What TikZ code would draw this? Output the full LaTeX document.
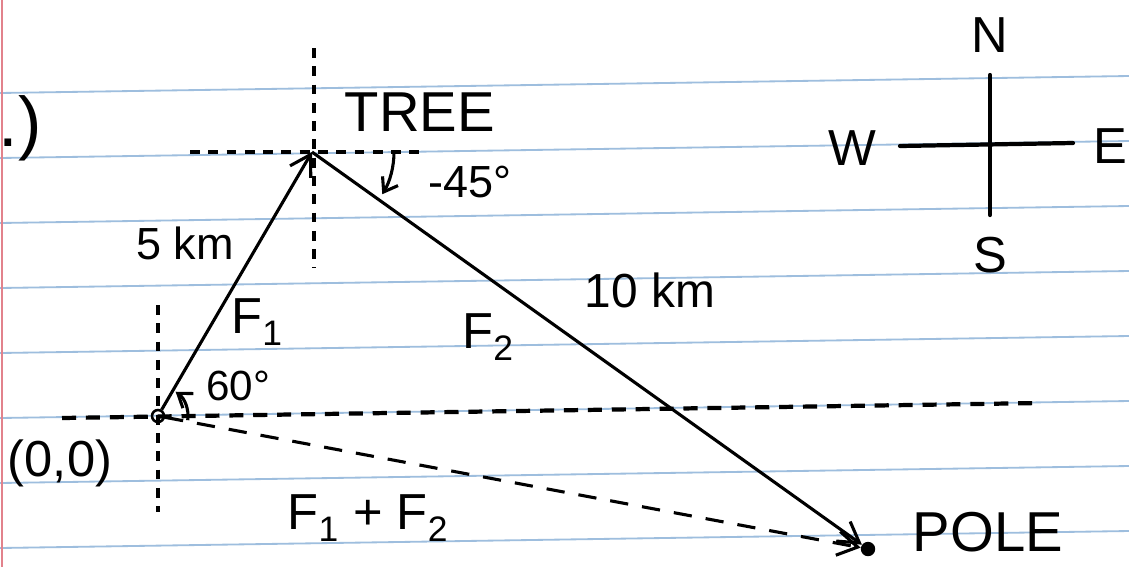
\documentclass[tikz,border=0pt]{standalone}
\usepackage{fontspec}
\setmainfont{Liberation Sans}
\usepackage{xcolor}
\usetikzlibrary{arrows.meta}
\usetikzlibrary{positioning}

\definecolor{ruleblue}{RGB}{158,190,222}
\definecolor{marginred}{RGB}{226,130,140}

\begin{document}
\begin{tikzpicture}[x=0.025cm, y=-0.025cm,
    every node/.style={inner sep=0pt, font=\fontsize{36}{40}\selectfont},
    vec/.style={line width=2.2pt, -{Straight Barb[length=5mm, width=6mm, line width=2.2pt]}},
    guide/.style={line width=2.6pt, dash pattern=on 7pt off 6pt},
    sum/.style={vec, dash pattern=on 13pt off 10pt},
    angarrow/.style={line width=2.2pt, -{Straight Barb[length=3.2mm, width=4.5mm, line width=2.2pt]}},
    compass/.style={line width=3pt, line cap=round},
    paperline/.style={line width=1.3pt, ruleblue}]
        \useasboundingbox[fill=white] (0,0) rectangle (1129,567);
        % ruled paper
        \foreach \y in {93,158,...,548}
            \draw[paperline] (0,\y) -- (1129,{\y-17});
        \draw[line width=1.2pt, marginred] (2,0) -- (2,567);

        \node (num) at (20,128) {\fontsize{50}{54}\selectfont .)};

        % points
        \node (O) [draw, circle, line width=1.8pt, minimum size=3mm] at (158,416) {};
        \coordinate (T) at (312,152);
        \node (P) [fill, circle, minimum size=3.6mm] at (868,549) {};

        % guide lines
        \coordinate (tn) at (314,48);  \coordinate (ts) at (314,268);
        \coordinate (tw) at (190,152); \coordinate (te) at (420,152);
        \coordinate (on) at (158,305); \coordinate (os) at (158,512);
        \coordinate (ow) at (62,418);  \coordinate (oe) at (1040,403);
        \draw[guide] (tn) -- (ts);
        \draw[guide] (tw) -- (te);
        \draw[guide] (on) -- (os);
        \draw[guide, line width=3pt, dash pattern=on 10pt off 7pt] (ow) -- (oe);

        % vectors
        \draw[vec] (O) -- (T);
        \draw[vec] (T) -- (P);
        \draw[sum] (O) -- (P);

        % angles
        \draw[angarrow] ([shift={(0:82)}]T) arc[start angle=0, end angle=31, radius=82];
        \draw[angarrow] ([shift={(8:30)}]O) arc[start angle=8, end angle=-54, radius=30];

        % labels
        \node (tree) at (420,112) {\fontsize{40}{44}\selectfont TREE};
        \node (ang2) at (470,182) {\fontsize{32}{36}\selectfont -45°};
        \node (len1) at (185,243) {\fontsize{32}{36}\selectfont 5 km};
        \node (len2) at (650,290) {\fontsize{34}{38}\selectfont 10 km};
        \node (f1) at (257,322) {F\textsubscript{1}};
        \node (f2) at (488,337) {F\textsubscript{2}};
        \node (ang1) at (238,386) {\fontsize{30}{34}\selectfont 60°};
        \node (orig) at (60,463) {(0,0)};
        \node (fsum) at (368,518) {F\textsubscript{1} + F\textsubscript{2}};
        \node (pole) at (988,532) {\fontsize{40}{44}\selectfont POLE};

        % compass
        \node (N) at (990,35) {N};
        \node (S) at (990,255) {S};
        \node (W) at (852,148) {W};
        \node (E) at (1110,146) {E};
        \coordinate (cn) at (990,75);  \coordinate (cs) at (990,215);
        \coordinate (cw) at (900,146); \coordinate (ce) at (1073,143);
        \draw[compass] (cn) -- (cs);
        \draw[compass] (cw) -- (ce);
\end{tikzpicture}
\end{document}
